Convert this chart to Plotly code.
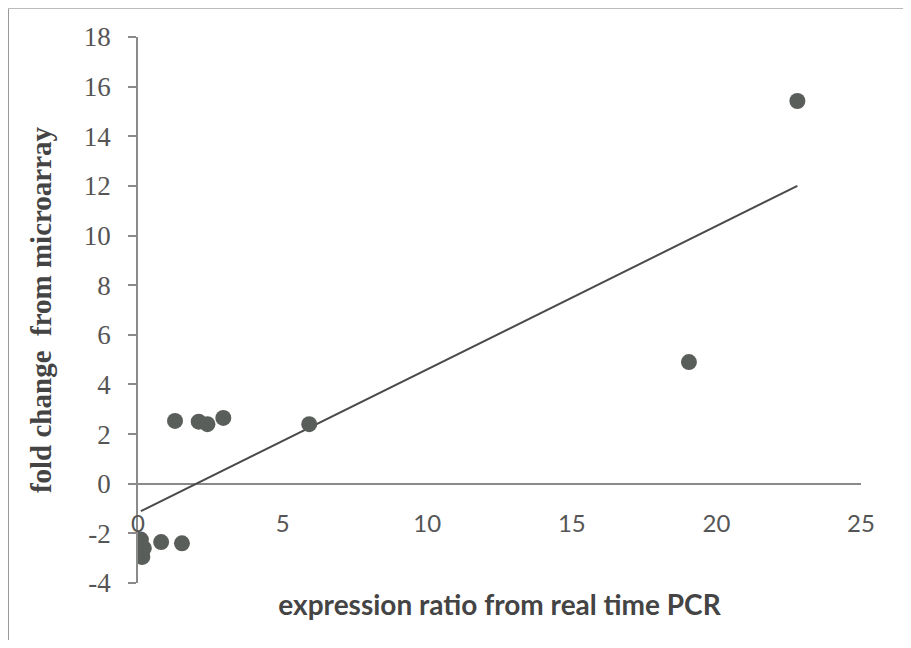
import numpy as np
import plotly.graph_objects as go

# data
x_pcr = [22.8, 19.05, 5.92, 1.28, 2.1, 2.4, 2.95, 0.1, 0.2, 0.15, 0.8, 1.52]
y_array = [15.42, 4.9, 2.4, 2.53, 2.5, 2.4, 2.65, -2.25, -2.6, -2.95, -2.35, -2.4]
x_ticks = [0, 5, 10, 15, 20, 25]
y_ticks = [-4, -2, 0, 2, 4, 6, 8, 10, 12, 14, 16, 18]
y_ticktext = ["-4", "-2", "0", "2", "4", "6", "8", "10", "12", "14", "16", "18"]

# linear trendline
slope, intercept = np.polyfit(x_pcr, y_array, 1)
tx = [min(x_pcr), max(x_pcr)]
ty = [slope * v + intercept for v in tx]

# page has an 8px body margin; work in page pixels and subtract it
OFF = 8
W, H = 911 - 2 * OFF, 648 - 2 * OFF
PL, PR, PT, PB = 138, 861, 37, 583  # plot area in page pixels
L, R, T, B = PL - OFF, (W + OFF) - PR, PT - OFF, (H + OFF) - PB
pw, ph = PR - PL, PB - PT


def px(xp):
    return (xp - PL) / pw


def py(yp):
    return (PB - yp) / ph


fig = go.Figure()
fig.add_trace(go.Scatter(x=tx, y=ty, mode="lines",
                         line=dict(color="#4a4a4a", width=2), showlegend=False))
fig.add_trace(go.Scatter(x=x_pcr, y=y_array, mode="markers",
                         marker=dict(size=16, color="#5a5e5a"), showlegend=False))

fig.update_layout(
    width=W, height=H,
    margin=dict(l=L, r=R, t=T, b=B, autoexpand=False),
    paper_bgcolor="#ffffff", plot_bgcolor="rgba(0,0,0,0)",
    xaxis=dict(range=[0, 25], tickvals=x_ticks, showgrid=False, zeroline=False,
               showline=False, ticks="", anchor="free", position=py(507),
               tickfont=dict(family="Lato", size=24, color="#555"),
               title=dict(text="<b>expression ratio from real time PCR</b>",
                          font=dict(family="Lato", size=28, color="#444"),
                          standoff=59)),
    yaxis=dict(range=[-4, 18], tickvals=y_ticks, ticktext=y_ticktext, showgrid=False,
               zeroline=True, zerolinecolor="#8a8a8a", zerolinewidth=1.5,
               showline=True, linecolor="#8a8a8a", linewidth=1.5,
               ticks="outside", ticklen=8, tickcolor="#8a8a8a", tickwidth=1.5,
               ticklabelstandoff=12,
               tickfont=dict(family="Liberation Serif", size=27, color="#555"),
               title=dict(text="<b>fold change  from microarray</b>",
                          font=dict(family="Liberation Serif", size=29, color="#444"),
                          standoff=24)),
)

# scan frame lines
fig.add_shape(type="line", xref="paper", yref="paper",
              x0=px(8), x1=px(8), y0=py(8), y1=py(660), line=dict(color="#9a9a9a", width=2))
fig.add_shape(type="line", xref="paper", yref="paper",
              x0=px(8), x1=px(920), y0=py(8), y1=py(8), line=dict(color="#bbbbbb", width=2))

fig.write_html("out.html")
